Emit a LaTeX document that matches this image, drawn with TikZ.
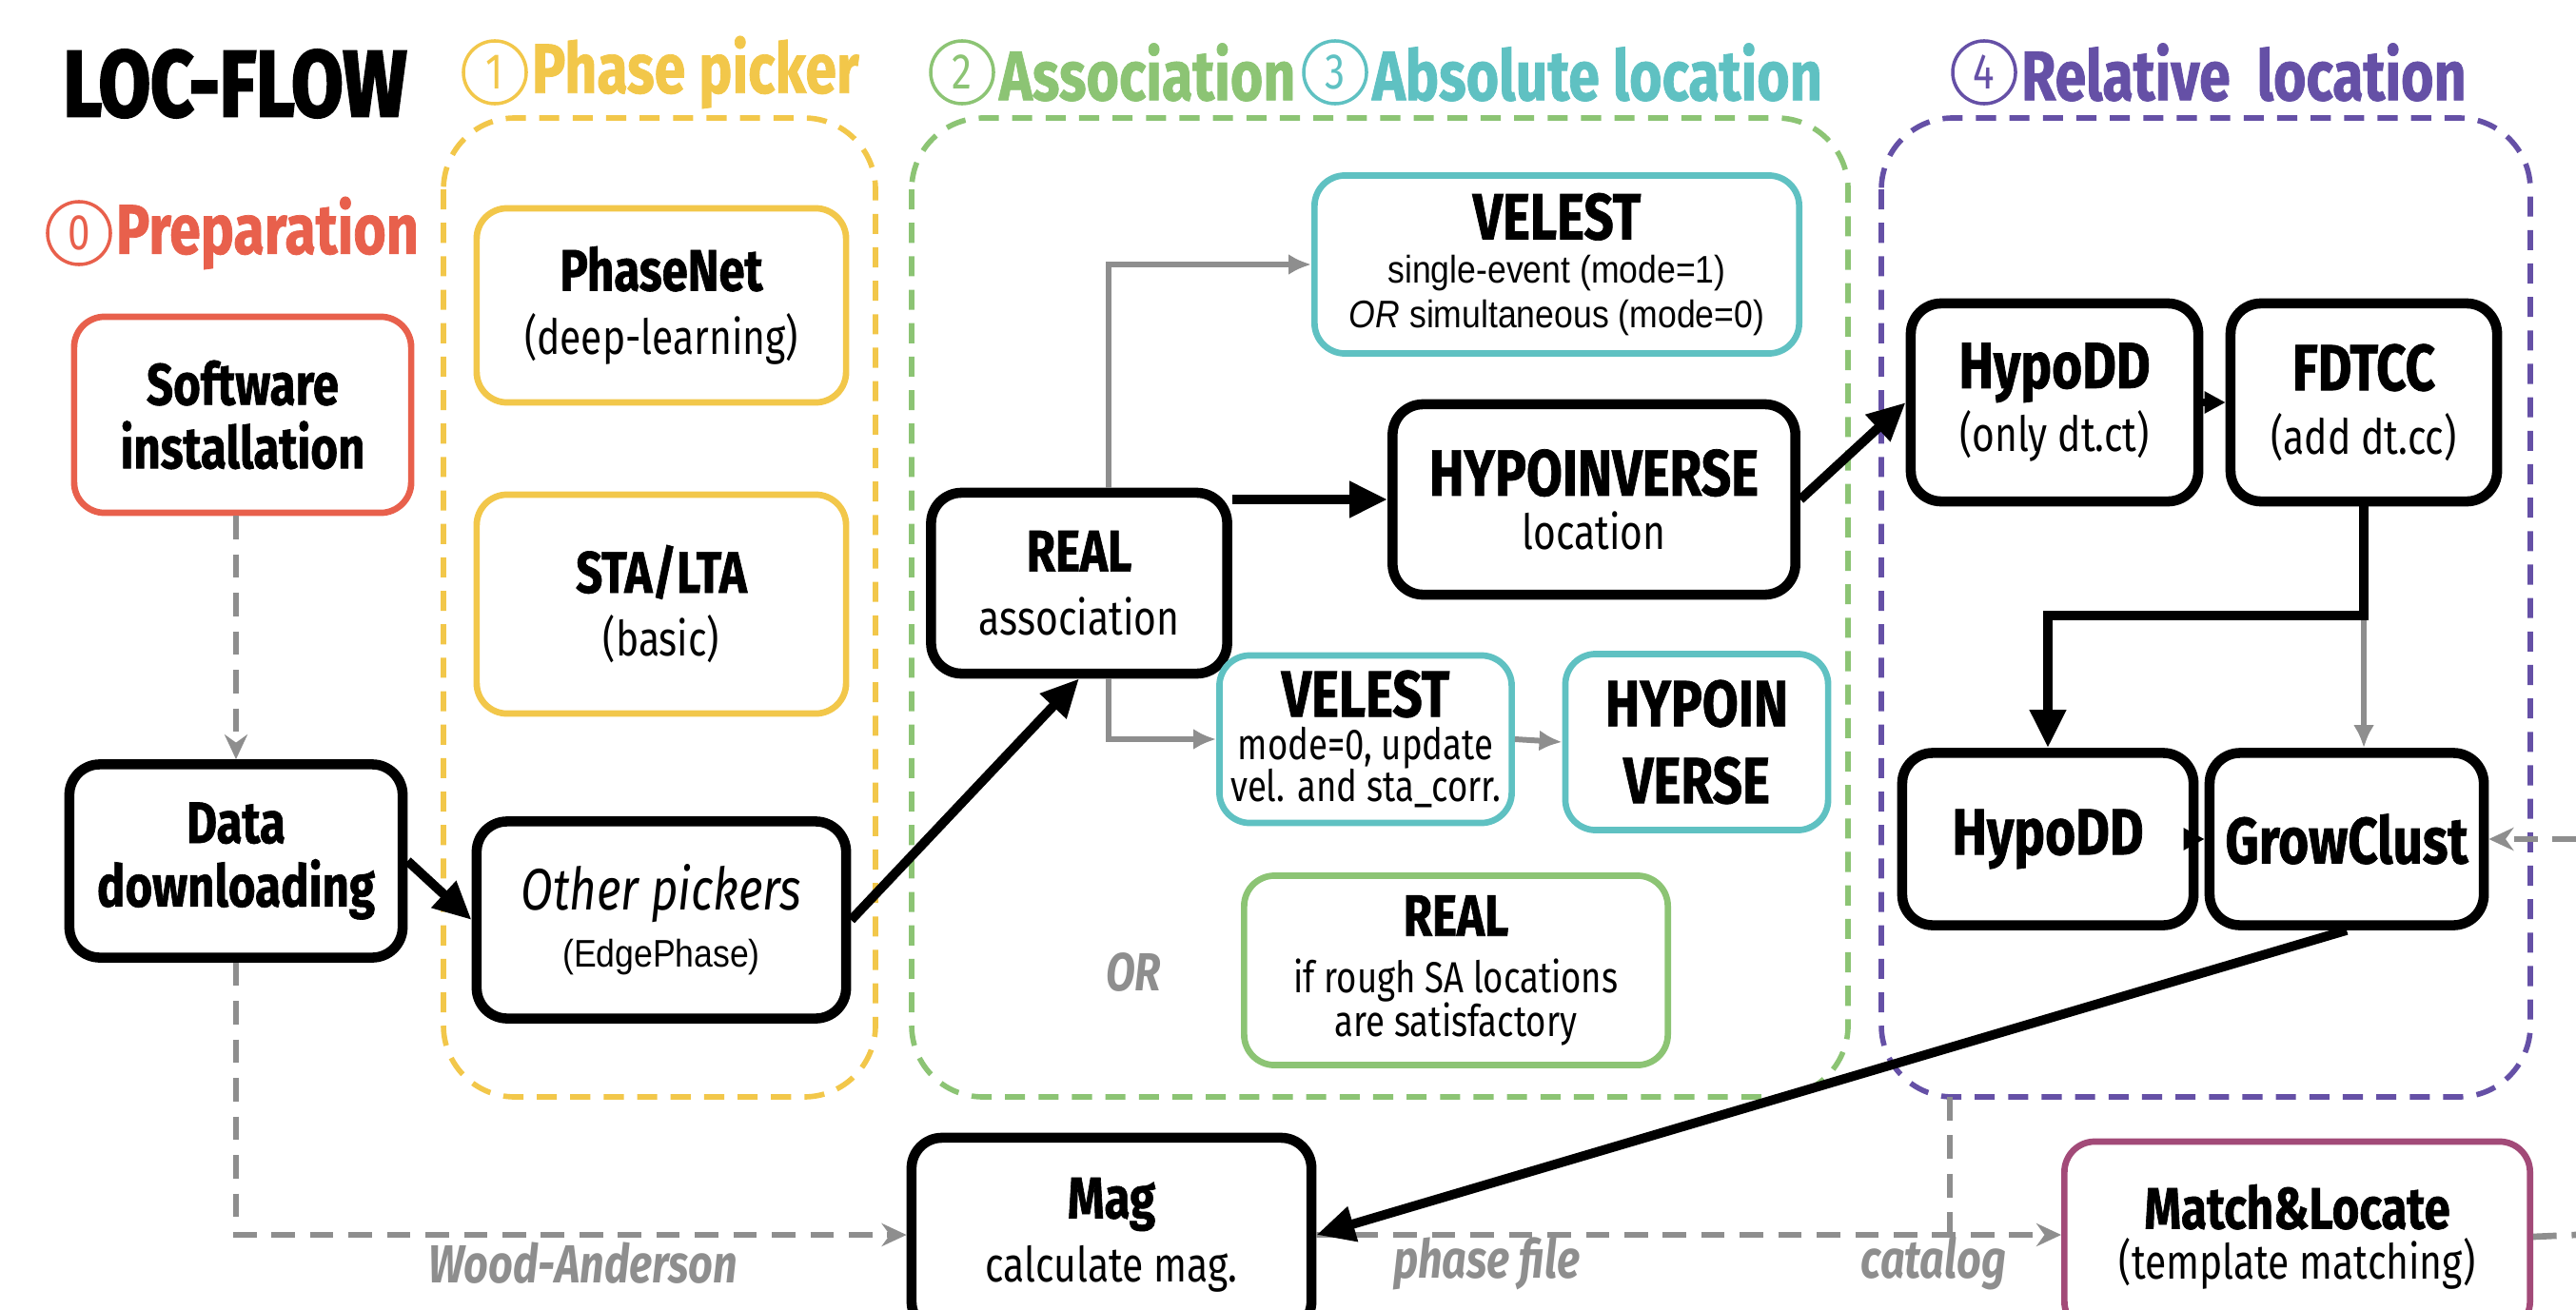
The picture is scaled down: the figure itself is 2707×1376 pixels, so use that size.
\documentclass[tikz,border=0pt]{standalone}
\usepackage{fontspec}
\setmainfont{Fira Sans}[FakeStretch=0.8]
\newfontfamily\arialfont{Liberation Sans}[FakeStretch=0.88]
\usepackage{xcolor}
\usepackage{tikz}
\usetikzlibrary{positioning,arrows.meta}

\definecolor{prepred}{HTML}{E8604C}
\definecolor{pickyellow}{HTML}{F2C74A}
\definecolor{assocgreen}{HTML}{8CC474}
\definecolor{absteal}{HTML}{5FC1C2}
\definecolor{relpurple}{HTML}{6550A6}
\definecolor{matchplum}{HTML}{A24A78}
\definecolor{flowgray}{HTML}{8E8E8E}

\newcommand{\tooltitle}[1]{{\bfseries\addfontfeatures{FakeBold=1}\fontsize{17.5}{19}\selectfont #1}}
\newcommand{\bigtitle}[1]{{\bfseries\addfontfeatures{FakeBold=1}\fontsize{19.5}{19}\selectfont #1}}
\newcommand{\toolnote}[1]{{\fontsize{14.5}{19}\selectfont #1}}
\newcommand{\smallnote}[1]{{\fontsize{13}{19}\selectfont #1}}
\newcommand{\arialnote}[1]{{\arialfont\fontsize{11.5}{19}\selectfont #1}}

\begin{document}
\begin{tikzpicture}[x=0.01cm, y=-0.01cm,
    tool/.style={draw, rounded corners=0.32cm, line width=1.9pt, align=center, fill=white, inner sep=1pt, font=\fontsize{14.5}{19}\selectfont},
    mainstep/.style={tool, draw=black, line width=3pt},
    stagebox/.style={draw, line width=1.6pt, dash pattern=on 6pt off 4pt, rounded corners=0.75cm},
    stagenum/.style={circle, draw, line width=1pt, inner sep=0pt, minimum size=0.66cm, font=\fontsize{15}{15}\selectfont},
    stagename/.style={inner sep=1pt, font=\bfseries\addfontfeatures{FakeBold=1}\fontsize{21}{22}\selectfont},
    bigflow/.style={line width=2.8pt, -{Triangle[length=0.4cm, width=0.36cm]}},
    midflow/.style={line width=2pt, -{Triangle[length=0.22cm, width=0.22cm]}},
    thinflow/.style={draw=flowgray, line width=1.7pt, -{Latex[length=0.24cm, width=0.22cm]}},
    dataflow/.style={draw=flowgray, line width=1.9pt, dash pattern=on 7pt off 4.5pt, -{Stealth[length=0.26cm, width=0.24cm]}},
    flowlabel/.style={text=flowgray, font=\bfseries\itshape\fontsize{16}{16}\selectfont}]
  \useasboundingbox (0,0) rectangle (2707,1376);

  % stage frames
  \draw[stagebox, draw=pickyellow] (466,124) rectangle (920,1153);
  \draw[stagebox, draw=assocgreen] (958,124) rectangle (1942,1153);
  \draw[stagebox, draw=relpurple] (1977,124) rectangle (2659,1153);

  % headings
  \node[font=\bfseries\addfontfeatures{FakeBold=2.5}\fontsize{28}{28}\selectfont] (title) at (247,88) {LOC-FLOW};
  \node[stagenum, draw=prepred, text=prepred] (num0) at (83,245) {0};
  \node[stagename, text=prepred, right=0pt of num0] (prep) {Preparation};
  \node[stagenum, draw=pickyellow, text=pickyellow] (num1) at (520,76) {1};
  \node[stagename, text=pickyellow, right=0pt of num1] (picker) {Phase picker};
  \node[stagenum, draw=assocgreen, text=assocgreen] (num2) at (1011,76) {2};
  \node[stagename, text=assocgreen, right=0pt of num2] (assoc) {Association};
  \node[stagenum, draw=absteal, text=absteal] (num3) at (1403,76) {3};
  \node[stagename, text=absteal, right=0pt of num3] (absloc) {Absolute location};
  \node[stagenum, draw=relpurple, text=relpurple] (num4) at (2085,76) {4};
  \node[stagename, text=relpurple, right=0pt of num4] (relloc) {Relative~~location};

  % tools
  \node[tool, draw=prepred, minimum width=3.54cm, minimum height=2.06cm] (soft) at (255,436) {\tooltitle{Software}\\\tooltitle{installation}};
  \node[mainstep, minimum width=3.5cm, minimum height=2.03cm] (data) at (248,905) {\tooltitle{Data}\\\tooltitle{downloading}};

  \node[tool, draw=pickyellow, minimum width=3.88cm, minimum height=2.04cm] (phasenet) at (695,321) {\tooltitle{PhaseNet}\\\toolnote{(deep-learning)}};
  \node[tool, draw=pickyellow, minimum width=3.88cm, minimum height=2.3cm] (stalta) at (695,635) {\tooltitle{STA/LTA}\\\toolnote{(basic)}};
  \node[mainstep, minimum width=3.88cm, minimum height=2.07cm] (other) at (695,967) {{\itshape\fontsize{17.5}{19}\selectfont Other pickers}\\[-2pt]\arialnote{(EdgePhase)}};

  \node[mainstep, minimum width=3.11cm, minimum height=1.9cm] (real) at (1134,613) {\tooltitle{REAL}\\\toolnote{association}};
  \node[tool, draw=absteal, minimum width=5.09cm, minimum height=1.87cm] (velestone) at (1636,278) {\bigtitle{VELEST}\\[-6pt]\arialnote{single-event (mode=1)}\\[-5.5pt]\arialnote{\textit{OR} simultaneous (mode=0)}};
  \node[mainstep, minimum width=4.23cm, minimum height=2cm] (hypoinv) at (1675,525) {\bigtitle{HYPOINVERSE}\\[-3pt]\toolnote{location}};
  \node[tool, draw=absteal, minimum width=3.07cm, minimum height=1.76cm] (velesttwo) at (1435,777) {\bigtitle{VELEST}\\[-6pt]\smallnote{mode=0, update}\\[-6.5pt]\smallnote{vel. and sta\_corr.}};
  \node[tool, draw=absteal, minimum width=2.76cm, minimum height=1.85cm] (hypoinsplit) at (1783,780) {\bigtitle{HYPOIN}\\[4pt]\bigtitle{VERSE}};
  \node[tool, draw=assocgreen, minimum width=4.45cm, minimum height=1.99cm] (realsa) at (1530,1020) {\tooltitle{REAL}\\[-2pt]\smallnote{if rough SA locations}\\[-6pt]\smallnote{are satisfactory}};
  \node[flowlabel] (orlabel) at (1191,1022) {OR};

  \node[mainstep, minimum width=3.02cm, minimum height=2.08cm] (hypoddct) at (2159,423) {\bigtitle{HypoDD}\\\toolnote{(only dt.ct)}};
  \node[mainstep, minimum width=2.8cm, minimum height=2.08cm] (fdtcc) at (2484,423) {\bigtitle{FDTCC}\\\toolnote{(add dt.cc)}};
  \node[mainstep, minimum width=3.06cm, minimum height=1.81cm] (hypodd) at (2152,882) {\bigtitle{HypoDD}};
  \node[mainstep, minimum width=2.88cm, minimum height=1.81cm] (growclust) at (2466,882) {\bigtitle{GrowClust}};

  \node[mainstep, minimum width=4.2cm, minimum height=2.04cm] (mag) at (1168,1298) {\tooltitle{Mag}\\\toolnote{calculate mag.}};
  \node[tool, draw=matchplum, minimum width=4.89cm, minimum height=2cm] (match) at (2414,1300) {\tooltitle{Match\&Locate}\\[-4pt]\toolnote{(template matching)}};

  \coordinate (split) at (2484,647);
  \coordinate (catalog) at (2049,1153);
  \coordinate (edgein) at (2707,882);
  \coordinate (edgeout) at (2707,1298);

  % gray data links
  \draw[dataflow] (soft.south -| data.north) -- (data.north);
  \draw[dataflow] (data.south) |- (mag.west);
  \draw[dataflow] (mag.east) -- (match.west |- mag.east);
  \draw[dataflow, -] (catalog) -- (catalog |- mag.east);
  \draw[dataflow] (edgein) -- (growclust.east);
  \draw[dataflow, -] (match.east) -- (edgeout);
  \node[flowlabel] (woodlabel) at (613,1328) {Wood-Anderson};
  \node[flowlabel] (phaselabel) at (1562,1328) {phase file};
  \node[flowlabel] (cataloglabel) at (2032,1328) {catalog};

  \draw[thinflow] ([xshift=0.31cm]real.north) |- (velestone.west);
  \draw[thinflow] ([xshift=0.31cm]real.south) |- (velesttwo.west);
  \draw[thinflow] (velesttwo.east) -- (hypoinsplit.west);
  \draw[thinflow] (split) -- (split |- growclust.north);

  % main flow
  \draw[bigflow] (data.east) -- (other.west);
  \draw[bigflow] (other.east) -- (real.south);
  \draw[bigflow] (hypoinv.west -| real.east) -- (hypoinv.west);
  \draw[bigflow] (hypoinv.east) -- (hypoddct.west);
  \draw[midflow] (hypoddct.east) -- (fdtcc.west);
  \draw[bigflow] (fdtcc.south) -- (split) -| (hypodd.north);
  \draw[midflow] (hypodd.east) -- (growclust.west);
  \draw[bigflow] (growclust.south) -- (mag.east);
\end{tikzpicture}
\end{document}
